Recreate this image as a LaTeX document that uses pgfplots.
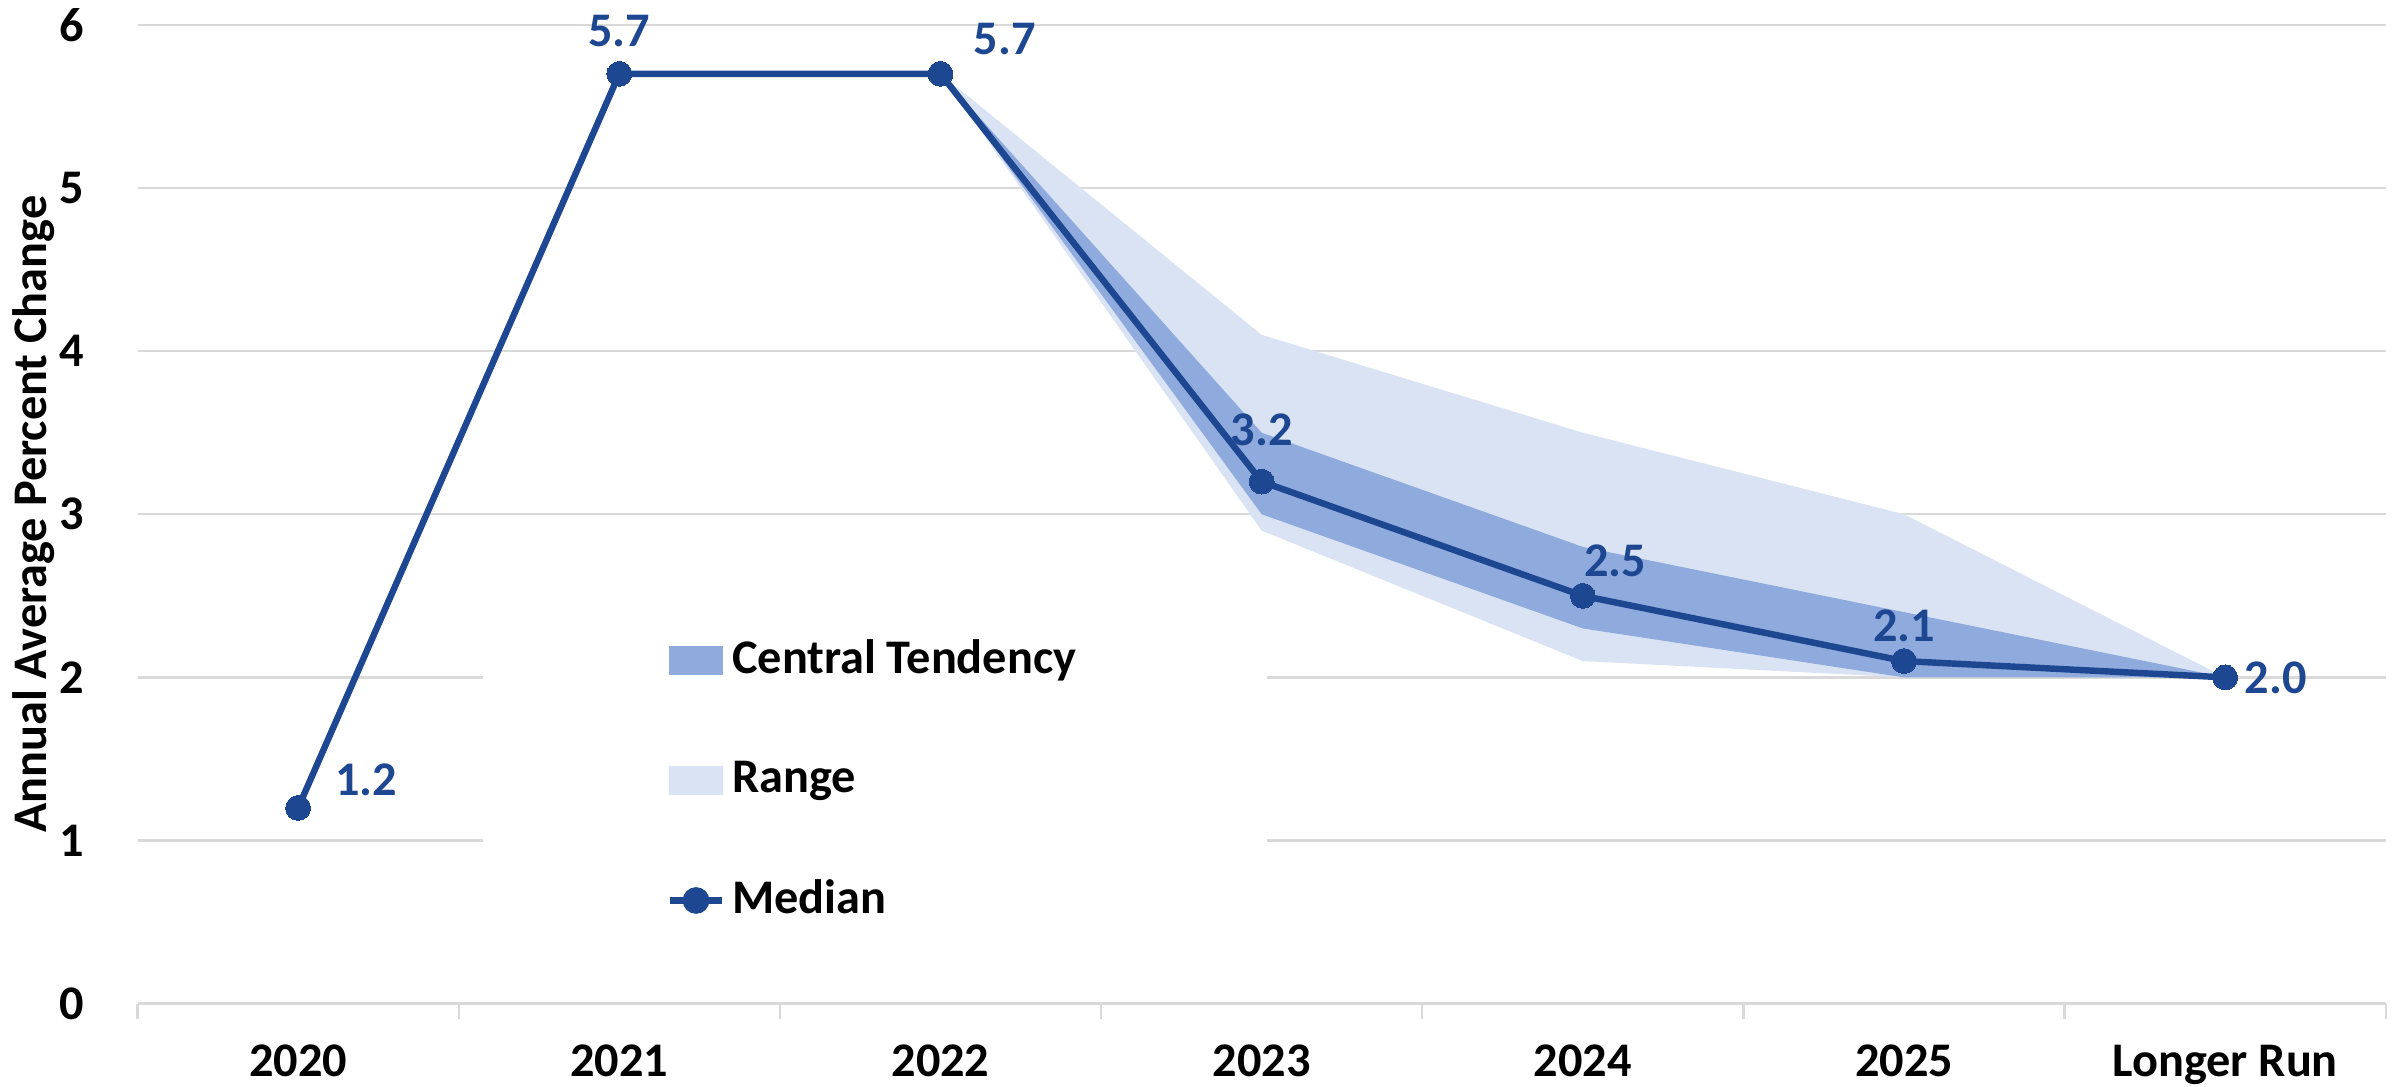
\documentclass[border=0pt]{standalone}
\usepackage{pgfplots}
\pgfplotsset{compat=1.18}
\usepackage{fontspec}
\setmainfont{Carlito}
\newcommand{\myfont}{\fontsize{10.5}{12.6}\selectfont\bfseries}
\definecolor{medcol}{RGB}{30,71,145}
\definecolor{ctcol}{RGB}{143,170,220}
\definecolor{rgcol}{RGB}{218,227,243}
\definecolor{gridgray}{RGB}{217,217,217}
\begin{document}
\begin{tikzpicture}
\begin{axis}[
  at={(0,0)}, anchor=south west,
  scale only axis,
  width=488.8pt, height=212.8pt,
  xmin=-0.5, xmax=6.5, ymin=0, ymax=6,
  clip=false,
  axis x line*=bottom, axis y line*=left,
  y axis line style={draw=none},
  x axis line style={draw=gridgray, line width=0.7pt},
  xtick={0,...,6},
  xticklabels={2020,2021,2022,2023,2024,2025,Longer Run},
  minor xtick={-0.5,0.5,1.5,2.5,3.5,4.5,5.5,6.5},
  ytick={0,...,6},
  major tick length=0pt,
  minor tick length=3.4pt,
  tick align=outside,
  every minor tick/.style={draw=gridgray, line width=0.5pt},
  ymajorgrids,
  grid style={draw=gridgray, line width=0.5pt},
  /pgf/number format/assume math mode=true,
  tick label style={font=\myfont, text=black},
  xticklabel style={yshift=-5.5pt},
  yticklabel style={xshift=-8pt},
  ylabel={Annual Average Percent Change},
  every axis y label/.style={at={(axis description cs:-0.0462,0.5)}, rotate=90, anchor=center, font=\myfont},
  legend style={at={(axis description cs:0.328,0.228)}, anchor=center,
    draw=none, fill=white, inner xsep=40pt, inner ysep=12pt,
    row sep=14.5pt, font=\myfont,
    nodes={inner sep=1.5pt, anchor=west}},
  legend cell align=left,
]
\addplot[fill=rgcol, draw=none, forget plot] coordinates {
  (2,5.7) (3,4.1) (4,3.5) (5,3.0) (6,2.0) (6,2.0) (5,2.0) (4,2.1) (3,2.9) (2,5.7)} -- cycle;
\addplot[fill=ctcol, draw=none, forget plot] coordinates {
  (2,5.7) (3,3.5) (4,2.8) (5,2.4) (6,2.0) (6,2.0) (5,2.0) (4,2.3) (3,3.0) (2,5.7)} -- cycle;
\addplot[medcol, line width=1.4pt, line join=round, mark=*, mark size=2.7pt,
  mark options={solid, fill=medcol, draw=medcol, line width=0pt}, forget plot] coordinates {
  (0,1.2) (1,5.7) (2,5.7) (3,3.2) (4,2.5) (5,2.1) (6,2.0)};
\addlegendimage{legend image code/.code={\fill[ctcol] (0pt,-2.95pt) rectangle (11.3pt,2.95pt);}}
\addlegendentry{Central Tendency}
\addlegendimage{legend image code/.code={\fill[rgcol] (0pt,-2.95pt) rectangle (11.3pt,2.95pt);}}
\addlegendentry{Range}
\addlegendimage{legend image code/.code={\draw[medcol, line width=1.4pt] (0pt,0pt) -- (11.3pt,0pt); \fill[medcol] (5.65pt,0pt) circle (2.7pt);}}
\addlegendentry{Median}
\begin{scope}[every node/.style={font=\myfont, text=medcol, anchor=center}]
\node[xshift=14.8pt, yshift=6pt] at (axis cs:0,1.2) {1.2};
\node[yshift=9.3pt] at (axis cs:1,5.7) {5.7};
\node[xshift=14pt, yshift=7.6pt] at (axis cs:2,5.7) {5.7};
\node[yshift=11.3pt] at (axis cs:3,3.2) {3.2};
\node[xshift=7pt, yshift=7.6pt] at (axis cs:4,2.5) {2.5};
\node[yshift=7.6pt] at (axis cs:5,2.1) {2.1};
\node[xshift=11pt] at (axis cs:6,2.0) {2.0};
\end{scope}
\end{axis}
\pgfresetboundingbox
\path (-29.9pt,-18.1pt) rectangle (490.8pt,218.2pt);
\end{tikzpicture}
\end{document}
